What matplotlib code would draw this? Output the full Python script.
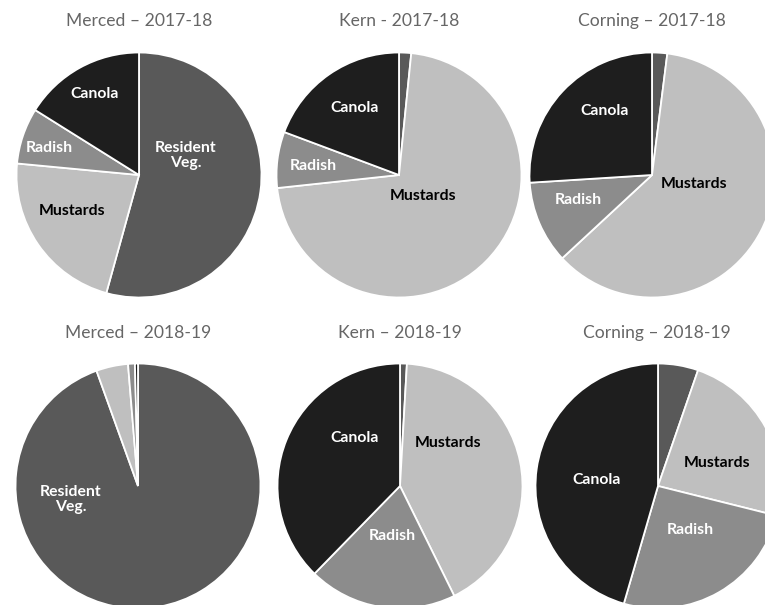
import matplotlib
matplotlib.use("Agg")
import matplotlib.pyplot as plt

plt.rcParams['font.family'] = ['Lato', 'DejaVu Sans']

# crop order, clockwise from 12 o'clock
crops = ['Resident Veg.', 'Mustards', 'Radish', 'Canola']
colors = ['#595959', '#bfbfbf', '#8c8c8c', '#1e1e1e']
label_colors = ['white', 'black', 'white', 'white']

titles = ['Merced \u2013 2017-18', 'Kern - 2017-18', 'Corning \u2013 2017-18',
          'Merced \u2013 2018-19', 'Kern \u2013 2018-19', 'Corning \u2013 2018-19']

# percent of each crop (Resident Veg., Mustards, Radish, Canola)
merced_1718 = [54.3, 22.2, 7.4, 16.1]
kern_1718 = [1.6, 71.7, 7.4, 19.3]
corning_1718 = [2.0, 61.1, 10.9, 26.0]
merced_1819 = [94.5, 4.2, 0.9, 0.4]
kern_1819 = [0.9, 41.8, 19.6, 37.7]
corning_1819 = [5.3, 23.6, 25.6, 45.5]
series = [merced_1718, kern_1718, corning_1718, merced_1819, kern_1819, corning_1819]

# layout (pixels, from top-left) and label placement (units of radius)
W, H = 765, 605
R = 122.5
centers = [(139, 175), (399, 175), (652, 175), (138, 486), (400, 486), (658, 486)]
title_y = [21, 21, 21, 333, 333, 333]
title_x = [139, 399, 652, 138, 400, 657]
label_pos = [
    {'Resident Veg.': (0.38, 0.16), 'Mustards': (-0.55, -0.29), 'Radish': (-0.73, 0.22), 'Canola': (-0.36, 0.66)},
    {'Mustards': (0.20, -0.17), 'Radish': (-0.70, 0.07), 'Canola': (-0.36, 0.55)},
    {'Mustards': (0.34, -0.07), 'Radish': (-0.60, -0.20), 'Canola': (-0.39, 0.52)},
    {'Resident Veg.': (-0.55, -0.11)},
    {'Mustards': (0.39, 0.35), 'Radish': (-0.06, -0.41), 'Canola': (-0.37, 0.39)},
    {'Mustards': (0.48, 0.19), 'Radish': (0.26, -0.36), 'Canola': (-0.50, 0.05)},
]

fig = plt.figure(figsize=(W / 100, H / 100), dpi=100)
fig.patch.set_facecolor('white')

for i, vals in enumerate(series):
    cx, cy = centers[i]
    x0, x1 = max(0, cx - 128), min(W, cx + 128)
    y0, y1 = max(0, cy - 128), min(H, cy + 128)
    ax = fig.add_axes([x0 / W, 1 - y1 / H, (x1 - x0) / W, (y1 - y0) / H])
    ax.pie(vals, colors=colors, startangle=90, counterclock=False,
           wedgeprops=dict(edgecolor='white', linewidth=1.3))
    ax.set_xlim((x0 - cx) / R, (x1 - cx) / R)
    ax.set_ylim((cy - y1) / R, (cy - y0) / R)
    ax.set_aspect('auto')
    ax.axis('off')
    for name, (lx, ly) in label_pos[i].items():
        k = crops.index(name)
        txt = name.replace(' ', '\n') if name == 'Resident Veg.' else name
        ax.text(lx, ly, txt, ha='center', va='center', fontsize=11.3,
                fontweight='bold', color=label_colors[k], linespacing=1.15)
    fig.text(title_x[i] / W, 1 - title_y[i] / H, titles[i], ha='center', va='center',
             fontsize=12.6, color='#666666')

fig.savefig('out.png', dpi=100, facecolor='white')
